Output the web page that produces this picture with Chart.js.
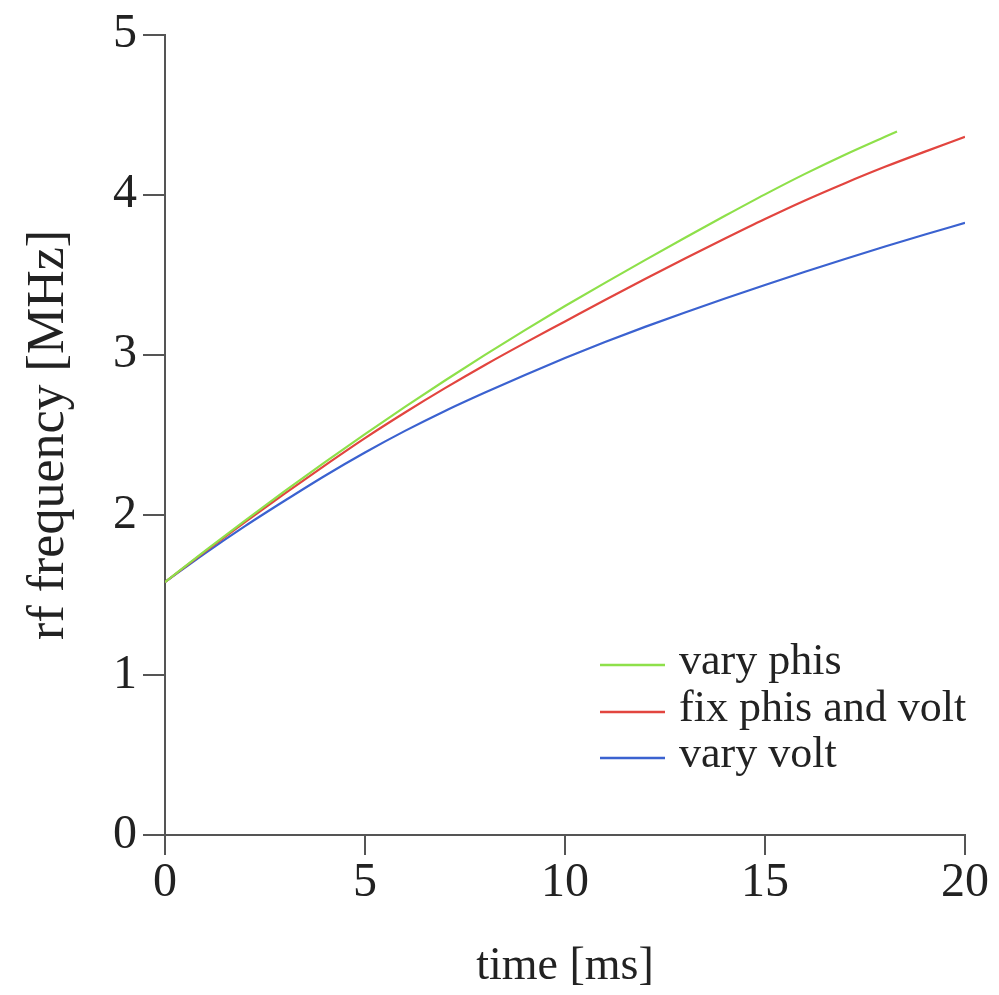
<!DOCTYPE html>
<html>
<head>
<meta charset="utf-8">
<script src="https://cdn.jsdelivr.net/npm/chart.js@4/dist/chart.umd.min.js"></script>
<style>
  html, body { margin: 0; padding: 0; background: #fff; }
  #wrap { width: 999px; height: 995px; position: relative; }
</style>
</head>
<body>
<div id="wrap"><canvas id="chart" width="999" height="995"></canvas></div>
<script>
  // time axis [ms]
  const times = [0, 1, 2, 3, 4, 5, 6, 7, 8, 9, 10, 11, 12, 13, 14, 15, 16, 17, 18, 19, 20];
  const phisTimes = [0, 1, 2, 3, 4, 5, 6, 7, 8, 9, 10, 11, 12, 13, 14, 15, 16, 17, 18, 18.3];

  // rf frequency [MHz]
  const varyPhis = [1.58, 1.775, 1.965, 2.15, 2.33, 2.505, 2.675, 2.84, 3.0, 3.155, 3.305, 3.45, 3.592, 3.732, 3.869, 4.003, 4.131, 4.251, 4.363, 4.396];
  const fixPhisVolt = [1.58, 1.77, 1.955, 2.135, 2.31, 2.48, 2.64, 2.792, 2.937, 3.075, 3.209, 3.343, 3.474, 3.602, 3.727, 3.849, 3.965, 4.073, 4.175, 4.27, 4.362];
  const varyVolt = [1.58, 1.76, 1.93, 2.09, 2.245, 2.39, 2.525, 2.65, 2.765, 2.875, 2.98, 3.08, 3.175, 3.265, 3.352, 3.437, 3.519, 3.599, 3.677, 3.752, 3.825];

  const xTicks = [0, 5, 10, 15, 20];
  const yTicks = [0, 1, 2, 3, 4, 5];

  const seriesNames = ['vary phis', 'fix phis and volt', 'vary volt'];
  const seriesColors = ['#8ee04a', '#e2453f', '#3b62d0'];

  const serif = '"Liberation Serif", "DejaVu Serif", serif';

  function toPoints(xs, ys) {
    return ys.map((y, i) => ({ x: xs[i], y }));
  }

  // legend drawn inside the plot area, bottom right
  const insideLegend = {
    id: 'insideLegend',
    afterDraw(chart) {
      const ctx = chart.ctx;
      const x0 = 600, x1 = 665, tx = 679;
      const ys = [665, 712, 758];
      ctx.save();
      ctx.font = '44px ' + serif;
      ctx.textBaseline = 'middle';
      ctx.fillStyle = '#222';
      chart.data.datasets.forEach((ds, i) => {
        ctx.strokeStyle = ds.borderColor;
        ctx.lineWidth = 2.5;
        ctx.beginPath();
        ctx.moveTo(x0, ys[i]);
        ctx.lineTo(x1, ys[i]);
        ctx.stroke();
        ctx.fillText(ds.label, tx, ys[i] - 3);
      });
      ctx.restore();
    }
  };

  const ctx = document.getElementById('chart').getContext('2d');
  new Chart(ctx, {
    type: 'line',
    data: {
      datasets: [
        { label: seriesNames[0], data: toPoints(phisTimes, varyPhis), borderColor: seriesColors[0] },
        { label: seriesNames[1], data: toPoints(times, fixPhisVolt), borderColor: seriesColors[1] },
        { label: seriesNames[2], data: toPoints(times, varyVolt), borderColor: seriesColors[2] }
      ]
    },
    options: {
      responsive: false,
      animation: false,
      layout: { padding: { left: 0, right: 34, top: 10, bottom: 0 } },
      elements: {
        point: { radius: 0 },
        line: { borderWidth: 2.2, cubicInterpolationMode: 'monotone', fill: false }
      },
      plugins: {
        legend: { display: false },
        tooltip: { enabled: false }
      },
      scales: {
        x: {
          type: 'linear',
          min: 0,
          max: 20,
          afterBuildTicks: s => { s.ticks = xTicks.map(v => ({ value: v })); },
          afterFit: s => { s.height = 160; },
          border: { display: true, color: '#555', width: 2 },
          grid: { drawOnChartArea: false, drawTicks: true, tickLength: 20, tickColor: '#555', lineWidth: 2 },
          ticks: { color: '#222', font: { family: serif, size: 48 }, padding: 0, maxRotation: 0 },
          title: { display: true, text: 'time [ms]', color: '#222', font: { family: serif, size: 46 }, padding: { top: 0, bottom: 0 } }
        },
        y: {
          min: 0,
          max: 5,
          afterBuildTicks: s => { s.ticks = yTicks.map(v => ({ value: v })); },
          afterFit: s => { s.width = 165; },
          border: { display: true, color: '#555', width: 2 },
          grid: { drawOnChartArea: false, drawTicks: true, tickLength: 22, tickColor: '#555', lineWidth: 2 },
          ticks: { color: '#222', font: { family: serif, size: 48 }, padding: 6 },
          title: { display: true, text: 'rf frequency [MHz]', color: '#222', font: { family: serif, size: 52 }, padding: { top: 18, bottom: 0 } }
        }
      }
    },
    plugins: [insideLegend]
  });
</script>
</body>
</html>
